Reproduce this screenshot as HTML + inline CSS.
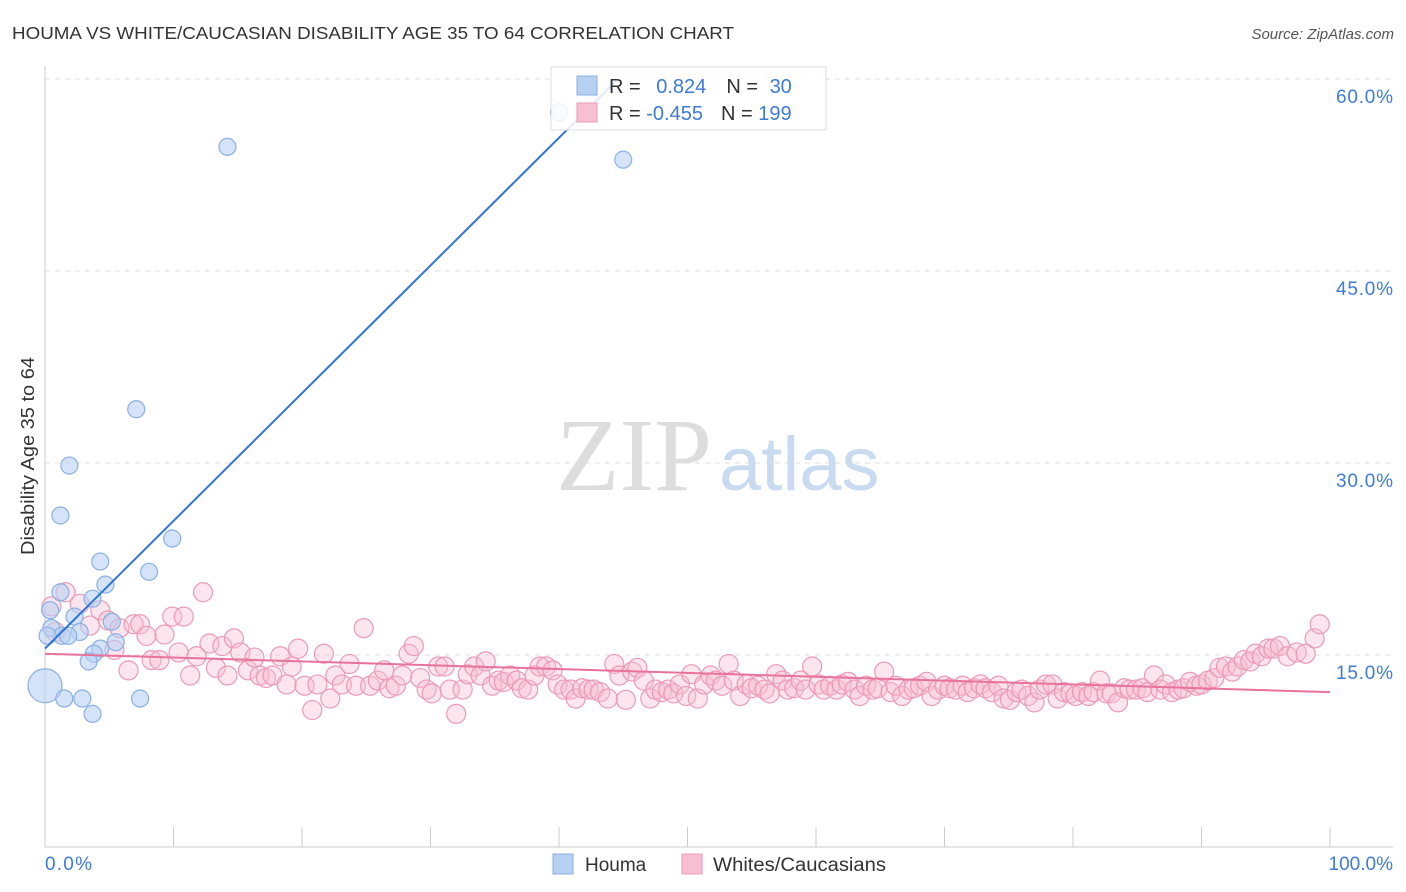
<!DOCTYPE html>
<html><head><meta charset="utf-8">
<style>
body{margin:0;background:#fff;font-family:"Liberation Sans",sans-serif;}
#wrap{position:relative;width:1406px;height:892px;overflow:hidden;}
</style></head>
<body>
<div id="wrap">
<svg id="svg" width="1406" height="892" xmlns="http://www.w3.org/2000/svg">
<text x="12" y="39" font-size="17.5" fill="#333" textLength="722" lengthAdjust="spacingAndGlyphs">HOUMA VS WHITE/CAUCASIAN DISABILITY AGE 35 TO 64 CORRELATION CHART</text>
<text x="1394" y="39" font-size="15" fill="#555" text-anchor="end" font-style="italic">Source: ZipAtlas.com</text>
<text x="34" y="456" font-size="18" fill="#333" text-anchor="middle" textLength="198" lengthAdjust="spacingAndGlyphs" transform="rotate(-90 34 456)">Disability Age 35 to 64</text>
<g id="grid"></g>
<text x="712" y="490" font-size="104" fill="#ddd" text-anchor="end" font-family="Liberation Serif,serif">ZIP</text>
<text x="719" y="490" font-size="76" fill="#c9dbf0">atlas</text>
<g id="pts"></g>
<g id="lines"></g>
<g>
<rect x="551" y="67" width="275" height="63" fill="#fff" fill-opacity="0.85" stroke="#ddd"/>
<rect x="577" y="76" width="20" height="19" fill="#b7d1f3" stroke="#8ab0e5"/>
<rect x="577" y="103" width="20" height="19" fill="#f7bfd2" stroke="#ec9ab5"/>
<text x="609" y="93" font-size="20" fill="#333">R = <tspan fill="#3d7bd8" dx="10">0.824</tspan><tspan dx="20" fill="#333">N = </tspan><tspan fill="#3d7bd8" dx="6">30</tspan></text>
<text x="609" y="120" font-size="20" fill="#333">R = <tspan fill="#3d7bd8">-0.455</tspan><tspan dx="18" fill="#333">N = </tspan><tspan fill="#3d7bd8">199</tspan></text>
</g>
<g>
<rect x="553" y="854" width="20" height="20" fill="#b7d1f3" stroke="#8ab0e5"/>
<text x="585" y="871" font-size="19" fill="#333">Houma</text>
<rect x="682" y="854" width="20" height="20" fill="#f7bfd2" stroke="#ec9ab5"/>
<text x="713" y="871" font-size="19" fill="#333" textLength="173" lengthAdjust="spacingAndGlyphs">Whites/Caucasians</text>
</g>
<text x="45" y="870" font-size="19" fill="#3d7bd8" textLength="47">0.0%</text>
<text x="1393" y="870" font-size="19" fill="#3d7bd8" text-anchor="end">100.0%</text>
</svg>
</div>
<script>
const yTicks=[15,30,45,60];
const yTickLabels=["15.0%","30.0%","45.0%","60.0%"];
const houmaX=[14.2,45,40.0,7.1,1.9,1.2,9.9,4.3,8.1,4.7,1.2,3.7,0.4,2.3,5.2,0.5,2.7,1.3,1.8,0.2,5.5,4.3,3.8,3.4,0,1.5,2.9,7.4,3.7];
const houmaY=[54.7,53.7,57.4,34.2,29.8,25.9,24.1,22.3,21.5,20.5,19.9,19.4,18.5,18.0,17.6,17.1,16.8,16.5,16.5,16.5,16.0,15.5,15.1,14.5,12.6,11.6,11.6,11.6,10.4];
const whiteX=[0.5,0.8,1.6,2.7,3.5,4.3,4.9,5.4,5.8,6.5,6.9,7.4,7.9,8.3,8.9,9.3,9.9,10.4,10.8,11.3,11.8,12.3,12.8,13.3,13.8,14.2,14.7,15.2,15.8,16.3,16.7,17.2,17.7,18.3,18.8,19.2,19.7,20.2,20.8,21.2,21.7,22.2,22.6,23.1,23.7,24.2,24.8,25.3,25.9,26.4,26.8,27.3,27.8,28.3,28.7,29.2,29.7,30.1,30.6,31.1,31.5,32.0,32.5,32.9,33.4,33.9,34.3,34.8,35.3,35.7,36.2,36.7,37.1,37.6,38.1,38.5,39.0,39.5,39.9,40.4,40.9,41.3,41.8,42.3,42.7,43.2,43.8,44.3,44.7,45.2,45.7,46.1,46.6,47.1,47.5,48.0,48.5,48.9,49.4,49.9,50.3,50.8,51.3,51.8,52.2,52.7,53.2,53.6,54.1,54.6,55.0,55.5,56.0,56.4,56.9,57.4,57.8,58.3,58.8,59.2,59.7,60.2,60.6,61.1,61.6,62.0,62.5,63.0,63.4,63.9,64.4,64.8,65.3,65.8,66.2,66.7,67.2,67.6,68.1,68.6,69.0,69.5,70.0,70.4,70.9,71.4,71.8,72.3,72.8,73.2,73.7,74.2,74.6,75.1,75.6,76.0,76.5,77.0,77.4,77.9,78.4,78.8,79.3,79.8,80.2,80.7,81.2,81.6,82.1,82.6,83.0,83.5,84.0,84.4,84.9,85.4,85.8,86.3,86.8,87.2,87.7,88.2,88.6,89.1,89.6,90.0,90.5,91.0,91.4,91.9,92.4,92.8,93.3,93.8,94.2,94.7,95.2,95.6,96.1,96.7,97.4,98.1,98.8,99.2];
const whiteY=[18.8,16.8,19.9,19.0,17.3,18.5,17.7,15.4,17.1,13.8,17.4,17.4,16.5,14.6,14.6,16.6,18.0,15.2,18.0,13.4,14.9,19.9,15.9,14.0,15.7,13.4,16.3,15.2,13.8,14.8,13.4,13.2,13.4,14.9,12.7,14.1,15.5,12.6,10.7,12.7,15.1,11.6,13.4,12.7,14.3,12.6,17.1,12.6,13.0,13.8,12.4,12.6,13.4,15.1,15.7,13.2,12.3,12.0,14.1,14.1,12.3,10.4,12.3,13.5,14.1,13.4,14.5,12.6,13.0,12.9,13.4,13.0,12.4,12.3,13.4,14.1,14.1,13.8,12.7,12.3,12.3,11.6,12.4,12.3,12.3,12.1,11.6,14.3,13.4,11.5,13.7,14.0,13.0,11.6,12.3,12.1,12.3,12.0,12.7,11.8,13.5,11.6,12.7,13.4,13.0,12.6,14.3,13.0,11.8,12.7,12.4,12.6,12.3,12.0,13.5,13.0,12.3,12.4,13.0,12.3,14.1,12.7,12.3,12.6,12.3,12.7,12.9,12.3,11.8,12.6,12.3,12.4,13.7,12.1,12.6,11.8,12.3,12.4,12.6,12.9,11.8,12.3,12.6,12.4,12.3,12.6,12.1,12.4,12.7,12.4,12.1,12.6,11.6,11.5,12.1,12.3,11.8,11.3,12.3,12.7,12.7,11.6,12.1,12.0,11.8,12.1,11.8,12.1,13.0,12.0,12.0,11.3,12.4,12.3,12.3,12.4,12.1,13.4,12.3,12.7,12.1,12.3,12.4,12.9,12.6,12.7,13.0,13.2,14.0,14.1,13.7,14.1,14.6,14.5,15.1,14.9,15.5,15.5,15.7,14.9,15.2,15.1,16.3,17.4];
const houmaTrend=[15.5,59.8], houmaTrendX=[0,44.4];
const whiteTrend=[15.1,12.1];
const NS="http://www.w3.org/2000/svg";
const X0=45,X1=1330,Y0=847,Y60=79;
const sx=v=>X0+(X1-X0)*v/100;
const sy=v=>Y0-(Y0-Y60)*v/60;
function mk(t,a,p){const e=document.createElementNS(NS,t);for(const k in a)e.setAttribute(k,a[k]);p.appendChild(e);return e;}
const grid=document.getElementById('grid');
yTicks.forEach((t,i)=>{
  const l=mk('line',{x1:45,x2:1393,y1:sy(t),y2:sy(t),stroke:'#ddd','stroke-dasharray':'5,5'},grid);
  
  
  const tx=mk('text',{x:1393,y:sy(t)+24,'font-size':19,fill:'#3d7bd8','text-anchor':'end',textLength:57},grid);
  tx.textContent=yTickLabels[i];
  
  
});
const ax=mk('line',{x1:45,x2:45,y1:66,y2:847,stroke:'#ccc'},grid);


const bx=mk('line',{x1:45,x2:1393,y1:847,y2:847,stroke:'#ccc'},grid);


for(let i=0;i<=10;i++){const t=mk('line',{x1:sx(i*10),x2:sx(i*10),y1:827,y2:847,stroke:'#ccc'},grid);
  
  }
const pts=document.getElementById('pts');
whiteX.forEach((v,i)=>{const c=mk('circle',{cx:sx(v),cy:sy(whiteY[i]),r:9.5,fill:'#f7bfd2','fill-opacity':0.4,stroke:'#ec9ab5','stroke-width':1.2},pts);
  
  });
houmaX.forEach((v,i)=>{const c=mk('circle',{cx:sx(v),cy:sy(houmaY[i]),r:(v===0?17:8.5),fill:'#b7d1f3','fill-opacity':0.6,stroke:'#8ab0e5','stroke-width':1.2},pts);
  
  });
const lines=document.getElementById('lines');
const l1=mk('line',{x1:sx(houmaTrendX[0]),y1:sy(houmaTrend[0]),x2:sx(houmaTrendX[1]),y2:sy(houmaTrend[1]),stroke:'#2f74d6','stroke-width':2},lines);


const l2=mk('line',{x1:sx(0),y1:sy(whiteTrend[0]),x2:sx(100),y2:sy(whiteTrend[1]),stroke:'#e8739a','stroke-width':2},lines);


</script>
</body></html>
